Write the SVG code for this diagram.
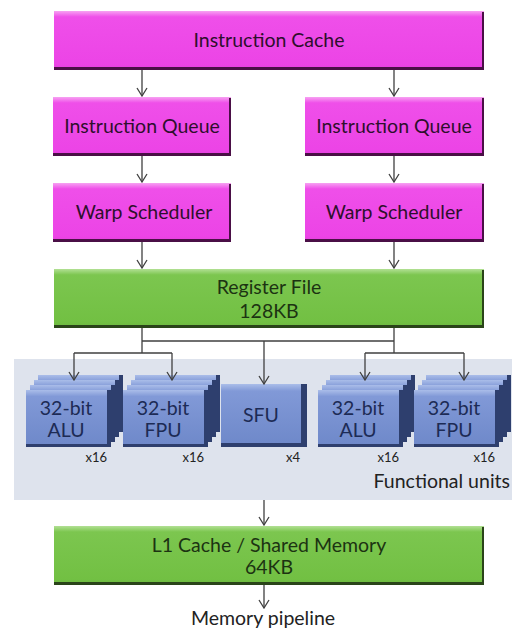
<svg xmlns="http://www.w3.org/2000/svg" width="512" height="631" viewBox="0 0 512 631">
  <defs>
    <linearGradient id="gMag" x1="0" y1="0" x2="0" y2="1">
      <stop offset="0" stop-color="#f7a2f2"/>
      <stop offset="0.1" stop-color="#ef4fe9"/>
      <stop offset="0.9" stop-color="#ec44e6"/>
      <stop offset="1" stop-color="#e33fdd"/>
    </linearGradient>
    <linearGradient id="gGrn" x1="0" y1="0" x2="0" y2="1">
      <stop offset="0" stop-color="#b2e094"/>
      <stop offset="0.1" stop-color="#7cc64f"/>
      <stop offset="0.9" stop-color="#72c043"/>
      <stop offset="1" stop-color="#6bb83f"/>
    </linearGradient>
    <linearGradient id="gBlu" x1="0" y1="0" x2="0" y2="1">
      <stop offset="0" stop-color="#aabde9"/>
      <stop offset="0.12" stop-color="#8199d7"/>
      <stop offset="1" stop-color="#6f89ca"/>
    </linearGradient>
    <marker id="arr" viewBox="0 0 10 12" refX="9" refY="6" markerWidth="10" markerHeight="12" markerUnits="userSpaceOnUse" orient="auto">
      <path d="M1,1 L9,6 L1,11" fill="none" stroke="#404040" stroke-width="1.3"/>
    </marker>
    <!-- one functional-unit slab: face plus dark right/bottom edges -->
    <g id="slab">
      <rect x="0" y="0" width="85" height="57" fill="#2e3f6e"/>
      <rect x="0" y="0" width="81" height="54" fill="url(#gBlu)"/>
    </g>
    <g id="stack">
      <use href="#slab" x="12" y="-15"/>
      <use href="#slab" x="8" y="-10"/>
      <use href="#slab" x="4" y="-5"/>
      <use href="#slab" x="0" y="0"/>
    </g>
  </defs>
  <style>
    .lbl { font-family: Lato, "Liberation Sans", sans-serif; font-size: 19.5px; text-anchor: middle; }
    .mag { fill: #2e0f2c; }
    .grn { fill: #1c3312; }
    .blu { fill: #1d2b55; }
    .cnt { font-family: Lato, "Liberation Sans", sans-serif; font-size: 13px; fill: #222; text-anchor: end; }
    .cap { font-family: Lato, "Liberation Sans", sans-serif; font-size: 19.5px; fill: #222; }
    .edgeM { fill: #4a0f46; }
    .edgeG { fill: #2a4419; }
    .wire { fill: none; stroke: #404040; stroke-width: 1.3; }
  </style>

  <rect width="512" height="631" fill="#ffffff"/>

  <!-- functional units backdrop -->
  <g id="functional-units-panel">
    <rect x="14" y="359" width="498" height="141" fill="#dee3ed"/>
    <text class="cap" x="510" y="488" text-anchor="end">Functional units</text>
  </g>

  <g id="instruction-cache">
    <rect x="54" y="11" width="430" height="59" fill="url(#gMag)"/>
    <rect x="54" y="67" width="430" height="3" class="edgeM"/>
    <rect x="482" y="12" width="2" height="58" class="edgeM"/>
    <text class="lbl mag" x="269" y="47">Instruction Cache</text>
  </g>

  <g id="instruction-queue-1">
    <rect x="53" y="97" width="178" height="59" fill="url(#gMag)"/>
    <rect x="53" y="153" width="178" height="3" class="edgeM"/>
    <rect x="229" y="98" width="2" height="58" class="edgeM"/>
    <text class="lbl mag" x="142" y="133">Instruction Queue</text>
  </g>
  <g id="instruction-queue-2">
    <rect x="305" y="97" width="179" height="59" fill="url(#gMag)"/>
    <rect x="305" y="153" width="179" height="3" class="edgeM"/>
    <rect x="482" y="98" width="2" height="58" class="edgeM"/>
    <text class="lbl mag" x="394" y="133">Instruction Queue</text>
  </g>

  <g id="warp-scheduler-1">
    <rect x="53" y="183" width="178" height="59" fill="url(#gMag)"/>
    <rect x="53" y="239" width="178" height="3" class="edgeM"/>
    <rect x="229" y="184" width="2" height="58" class="edgeM"/>
    <text class="lbl mag" x="144" y="219">Warp Scheduler</text>
  </g>
  <g id="warp-scheduler-2">
    <rect x="305" y="183" width="179" height="59" fill="url(#gMag)"/>
    <rect x="305" y="239" width="179" height="3" class="edgeM"/>
    <rect x="482" y="184" width="2" height="58" class="edgeM"/>
    <text class="lbl mag" x="394" y="219">Warp Scheduler</text>
  </g>

  <g id="register-file">
    <rect x="54" y="269" width="430" height="59" fill="url(#gGrn)"/>
    <rect x="54" y="325" width="430" height="3" class="edgeG"/>
    <rect x="482" y="270" width="2" height="58" class="edgeG"/>
    <text class="lbl grn" x="269" y="294">Register File</text>
    <text class="lbl grn" x="269" y="318">128KB</text>
  </g>

  <g id="alu-1">
    <use href="#stack" x="26" y="390"/>
    <text class="lbl blu" x="66" y="415">32-bit</text>
    <text class="lbl blu" x="66" y="437">ALU</text>
    <text class="cnt" x="107" y="462">x16</text>
  </g>
  <g id="fpu-1">
    <use href="#stack" x="123" y="390"/>
    <text class="lbl blu" x="163" y="415">32-bit</text>
    <text class="lbl blu" x="163" y="437">FPU</text>
    <text class="cnt" x="204" y="462">x16</text>
  </g>
  <g id="sfu">
    <rect x="221" y="384" width="86" height="63" fill="#2e3f6e"/>
    <rect x="221" y="384" width="80" height="59" fill="url(#gBlu)"/>
    <text class="lbl blu" x="261" y="422">SFU</text>
    <text class="cnt" x="300" y="462">x4</text>
  </g>
  <g id="alu-2">
    <use href="#stack" x="318" y="390"/>
    <text class="lbl blu" x="358" y="415">32-bit</text>
    <text class="lbl blu" x="358" y="437">ALU</text>
    <text class="cnt" x="399" y="462">x16</text>
  </g>
  <g id="fpu-2">
    <use href="#stack" x="414" y="390"/>
    <text class="lbl blu" x="454" y="415">32-bit</text>
    <text class="lbl blu" x="454" y="437">FPU</text>
    <text class="cnt" x="495" y="462">x16</text>
  </g>

  <g id="l1-cache">
    <rect x="54" y="526" width="430" height="59" fill="url(#gGrn)"/>
    <rect x="54" y="582" width="430" height="3" class="edgeG"/>
    <rect x="482" y="527" width="2" height="58" class="edgeG"/>
    <text class="lbl grn" x="269" y="552">L1 Cache / Shared Memory</text>
    <text class="lbl grn" x="269" y="574">64KB</text>
  </g>

  <g id="memory-pipeline">
    <text class="cap" x="263" y="625" text-anchor="middle">Memory pipeline</text>
  </g>

  <g id="connectors">
    <path class="wire" d="M142,70 V96" marker-end="url(#arr)"/>
    <path class="wire" d="M394,70 V96" marker-end="url(#arr)"/>
    <path class="wire" d="M142,156 V182" marker-end="url(#arr)"/>
    <path class="wire" d="M394,156 V182" marker-end="url(#arr)"/>
    <path class="wire" d="M142,242 V268" marker-end="url(#arr)"/>
    <path class="wire" d="M394,242 V268" marker-end="url(#arr)"/>
    <path class="wire" d="M142,328 V353 M394,328 V353 M142,341 H394 M74,353 H172 M365,353 H464"/>
    <path class="wire" d="M264,341 V384" marker-end="url(#arr)"/>
    <path class="wire" d="M74,353 V380" marker-end="url(#arr)"/>
    <path class="wire" d="M172,353 V380" marker-end="url(#arr)"/>
    <path class="wire" d="M365,353 V380" marker-end="url(#arr)"/>
    <path class="wire" d="M464,353 V380" marker-end="url(#arr)"/>
    <path class="wire" d="M264,500 V525" marker-end="url(#arr)"/>
    <path class="wire" d="M264,585 V608" marker-end="url(#arr)"/>
  </g>
</svg>
